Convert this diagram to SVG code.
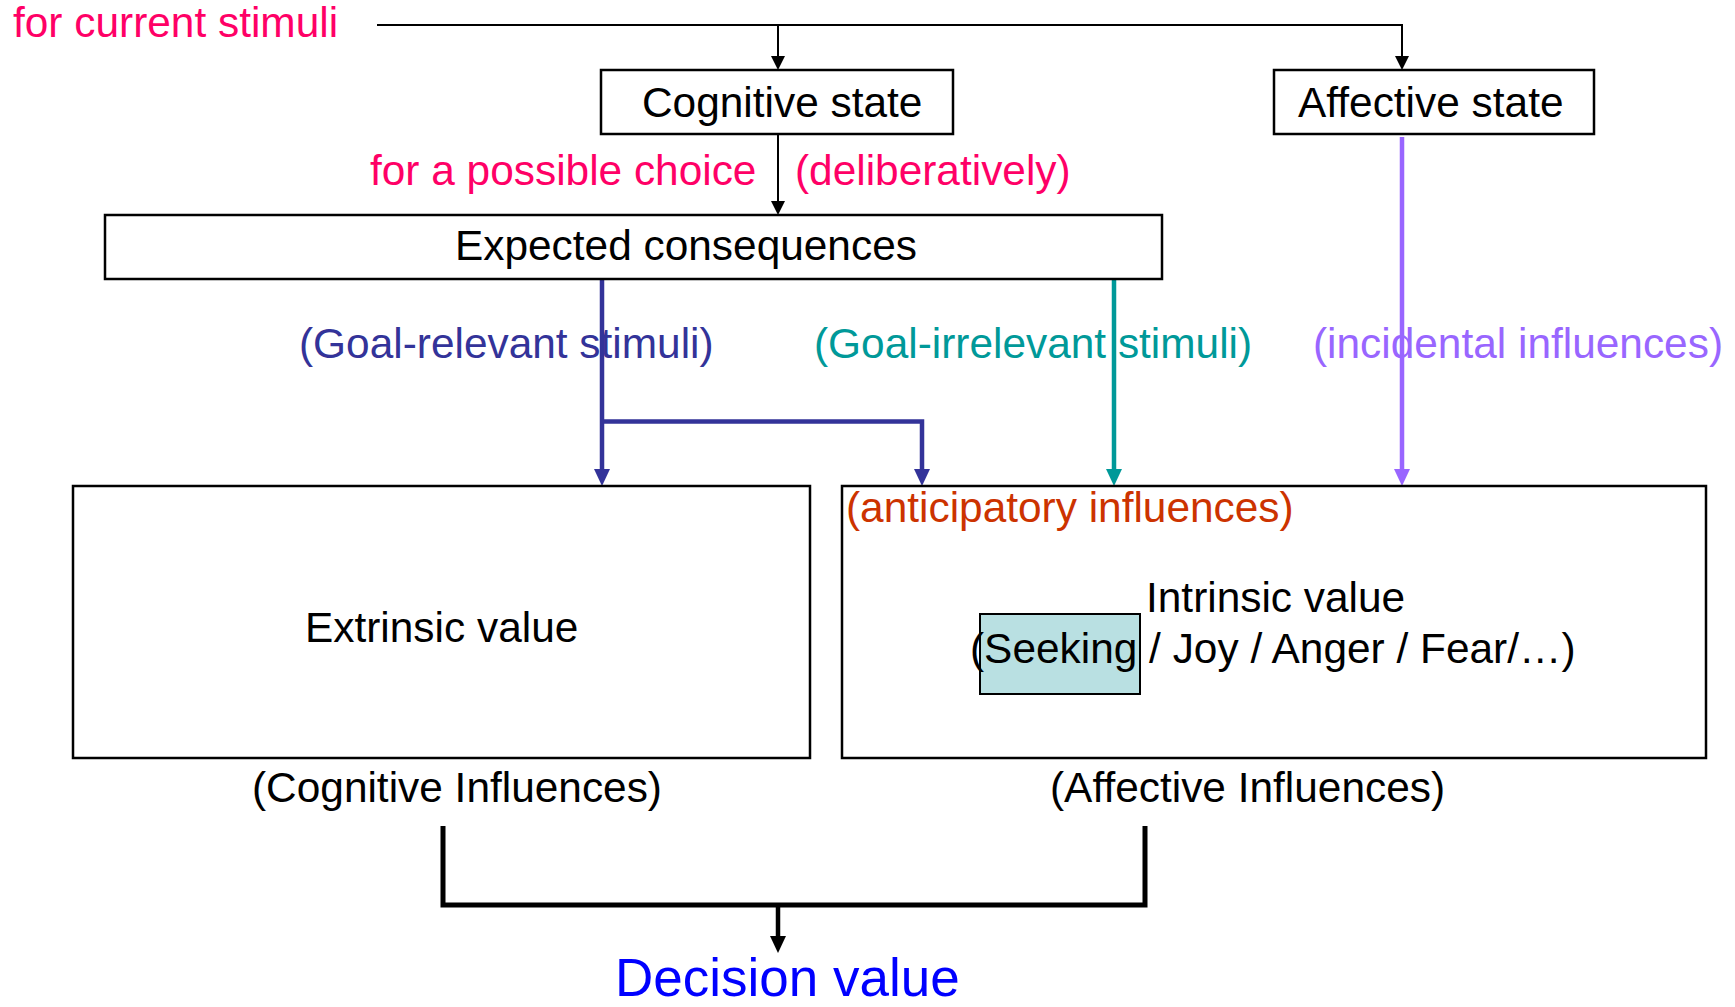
<svg xmlns="http://www.w3.org/2000/svg" width="1735" height="1007" viewBox="0 0 1735 1007">
<style>
text{font-family:"Liberation Sans",Arial,sans-serif;font-size:42.4px;fill:#000}
.box{fill:#fff;stroke:#000;stroke-width:2.5}
.red{fill:#FF0066}
.blue{fill:#333399}
.teal{fill:#009999}
.purp{fill:#9966FF}
.orng{fill:#CC3300}
.thin{fill:none;stroke:#000;stroke-width:2}
</style>
<defs>
<marker id="ak" markerUnits="userSpaceOnUse" markerWidth="14" markerHeight="14" viewBox="0 0 14 14" refX="0" refY="7" orient="auto"><path d="M0,0 L14,7 L0,14 z" fill="#000"/></marker>
<marker id="ab" markerUnits="userSpaceOnUse" markerWidth="17" markerHeight="16" viewBox="0 0 17 16" refX="0" refY="8" orient="auto"><path d="M0,0 L17,8 L0,16 z" fill="#333399"/></marker>
<marker id="at" markerUnits="userSpaceOnUse" markerWidth="17" markerHeight="16" viewBox="0 0 17 16" refX="0" refY="8" orient="auto"><path d="M0,0 L17,8 L0,16 z" fill="#009999"/></marker>
<marker id="ap" markerUnits="userSpaceOnUse" markerWidth="17" markerHeight="16" viewBox="0 0 17 16" refX="0" refY="8" orient="auto"><path d="M0,0 L17,8 L0,16 z" fill="#9966FF"/></marker>
<marker id="akb" markerUnits="userSpaceOnUse" markerWidth="17" markerHeight="16" viewBox="0 0 17 16" refX="0" refY="8" orient="auto"><path d="M0,0 L17,8 L0,16 z" fill="#000"/></marker>
</defs>

<g id="connectors">
<path class="thin" d="M377,25 H1402 V56" marker-end="url(#ak)"/>
<path class="thin" d="M778,25 V56" marker-end="url(#ak)"/>
<path class="thin" d="M778,134 V201" marker-end="url(#ak)"/>
<path d="M602,279 V469" fill="none" stroke="#333399" stroke-width="4.5" marker-end="url(#ab)"/>
<path d="M602,421.5 H922 V469" fill="none" stroke="#333399" stroke-width="4.5" marker-end="url(#ab)"/>
<path d="M1114,279 V469" fill="none" stroke="#009999" stroke-width="4.5" marker-end="url(#at)"/>
<path d="M1402,137 V469" fill="none" stroke="#9966FF" stroke-width="4.5" marker-end="url(#ap)"/>
<path d="M443,826 V905 H1145 V826" fill="none" stroke="#000" stroke-width="5"/>
<path d="M778,905 V936" fill="none" stroke="#000" stroke-width="4.5" marker-end="url(#akb)"/>
</g>

<g id="label-current">
<text class="red" x="13" y="37">for current stimuli</text>
</g>

<g id="node-cognitive-state">
<rect class="box" x="601" y="70" width="352" height="64"/>
<text x="642" y="117">Cognitive state</text>
</g>

<g id="node-affective-state">
<rect class="box" x="1274" y="70" width="320" height="64"/>
<text x="1298" y="117">Affective state</text>
</g>

<g id="label-choice">
<text class="red" x="370" y="185">for a possible choice</text>
<text class="red" x="795" y="185">(deliberatively)</text>
</g>

<g id="node-expected">
<rect class="box" x="105" y="215" width="1057" height="64"/>
<text x="455" y="260">Expected consequences</text>
</g>

<g id="labels-stimuli">
<text class="blue" x="299" y="358">(Goal-relevant stimuli)</text>
<text class="teal" x="814" y="358">(Goal-irrelevant stimuli)</text>
<text class="purp" x="1313" y="358">(incidental influences)</text>
</g>

<g id="node-extrinsic">
<rect class="box" x="73" y="486" width="737" height="272" style="fill:none"/>
<text x="305" y="642">Extrinsic value</text>
</g>

<g id="node-intrinsic">
<rect class="box" x="842" y="486" width="864" height="272" style="fill:none"/>
<text class="orng" x="846" y="522">(anticipatory influences)</text>
<rect x="980" y="614" width="160" height="80" fill="#B9E0E2" stroke="#000" stroke-width="2"/>
<text x="1146" y="612">Intrinsic value</text>
<text x="970" y="663">(Seeking / Joy / Anger / Fear/…)</text>
</g>

<g id="labels-influences">
<text x="252" y="802">(Cognitive Influences)</text>
<text x="1050" y="802">(Affective Influences)</text>
</g>

<g id="node-decision">
<text x="615" y="996" style="font-size:53px;fill:#0000FF">Decision value</text>
</g>
</svg>
